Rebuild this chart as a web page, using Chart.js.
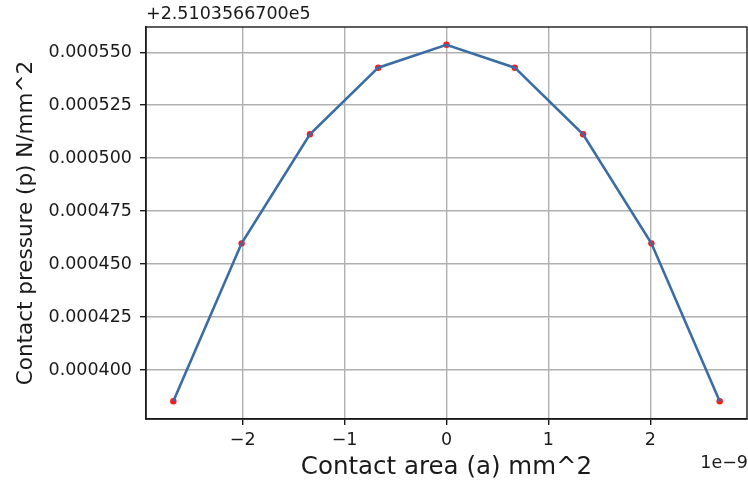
<!DOCTYPE html>
<html>
<head>
<meta charset="utf-8">
<script src="https://cdn.jsdelivr.net/npm/chart.js@4/dist/chart.umd.min.js"></script>
<style>
  html, body { margin: 0; padding: 0; background: #fff; overflow: hidden; }
  #wrap { width: 748px; height: 482px; }
</style>
</head>
<body>
<div id="wrap"><canvas id="pressureChart" width="748" height="482"></canvas></div>
<script>
// contact area (units of 1e-9 mm^2)
const areaValues = [-2.68, -2.01, -1.34, -0.67, 0, 0.67, 1.34, 2.01, 2.68];
// contact pressure minus the offset 2.5103566700e5 N/mm^2
const pressureValues = [0.0003853, 0.0004598, 0.0005113, 0.0005427, 0.0005535, 0.0005427, 0.0005113, 0.0004598, 0.0003853];
const xTicks = [-2, -1, 0, 1, 2];
const yTicks = [0.000400, 0.000425, 0.000450, 0.000475, 0.000500, 0.000525, 0.000550];
const yOffsetText = '+2.5103566700e5';
const xOffsetText = '1e\u22129';

const font = 'DejaVu Sans';
const ink = '#1a1a1a';
const points = areaValues.map((x, i) => ({ x, y: pressureValues[i] }));

// matplotlib style frame + offset labels
const framePlugin = {
  id: 'frame',
  afterDraw(chart) {
    const { ctx, chartArea: a } = chart;
    ctx.save();
    ctx.strokeStyle = ink;
    ctx.lineWidth = 1.4;
    ctx.strokeRect(a.left, a.top, a.right - a.left, a.bottom - a.top);
    ctx.fillStyle = ink;
    ctx.font = '17.5px "' + font + '"';
    ctx.textBaseline = 'bottom';
    ctx.textAlign = 'left';
    ctx.fillText(yOffsetText, a.left, a.top - 4);
    ctx.textBaseline = 'middle';
    ctx.textAlign = 'right';
    ctx.fillText(xOffsetText, 748, 463);
    ctx.restore();
  }
};

new Chart(document.getElementById('pressureChart'), {
  type: 'scatter',
  data: {
    datasets: [
      {
        type: 'line',
        data: points,
        borderColor: '#3b6ca6',
        borderWidth: 2.6,
        pointRadius: 0,
        tension: 0,
        order: 0
      },
      {
        type: 'scatter',
        data: points,
        backgroundColor: '#ff1a1a',
        borderWidth: 0,
        pointRadius: 3.2,
        order: 1
      }
    ]
  },
  plugins: [framePlugin],
  options: {
    responsive: false,
    animation: false,
    layout: { autoPadding: false, padding: { top: 27, right: 1, left: 0, bottom: 0 } },
    plugins: { legend: { display: false }, tooltip: { enabled: false } },
    scales: {
      x: {
        type: 'linear',
        min: -2.948,
        max: 2.948,
        afterFit(s) { s.height = 63; s.paddingLeft = 0; s.paddingRight = 0; },
        afterBuildTicks(s) { s.ticks = xTicks.map(v => ({ value: v })); },
        ticks: {
          color: ink,
          padding: 5,
          maxRotation: 0,
          font: { family: font, size: 17.5 },
          callback: v => (v < 0 ? '\u2212' + Math.abs(Math.round(v)) : String(Math.round(v)))
        },
        grid: { color: '#b0b0b0', lineWidth: 1.4, tickLength: 6, tickColor: ink, tickWidth: 1.4 },
        border: { display: true, color: ink, width: 1.4 },
        title: {
          display: true,
          text: 'Contact area (a) mm^2',
          color: ink,
          font: { family: font, size: 24.5 },
          padding: { top: 0, bottom: 0 }
        }
      },
      y: {
        type: 'linear',
        min: 0.0003769,
        max: 0.0005619,
        afterFit(s) { s.width = 146; s.paddingTop = 0; s.paddingBottom = 0; },
        afterBuildTicks(s) { s.ticks = yTicks.map(v => ({ value: v })); },
        ticks: {
          color: ink,
          padding: 8,
          font: { family: font, size: 17.5 },
          callback: v => v.toFixed(6)
        },
        grid: { color: '#b0b0b0', lineWidth: 1.4, tickLength: 6, tickColor: ink, tickWidth: 1.4 },
        border: { display: true, color: ink, width: 1.4 },
        title: {
          display: true,
          text: 'Contact pressure (p) N/mm^2',
          color: ink,
          font: { family: font, size: 21.5 },
          padding: { top: 14, bottom: 0 }
        }
      }
    }
  }
});
</script>
</body>
</html>
